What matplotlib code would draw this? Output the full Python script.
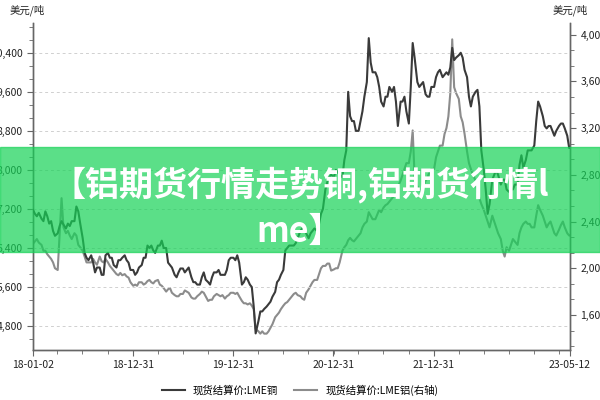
import matplotlib
matplotlib.use("Agg")
import matplotlib.pyplot as plt
import matplotlib.dates as mdates
from matplotlib.ticker import MultipleLocator, FuncFormatter
import pandas as pd

plt.rcParams['font.family'] = ['Noto Sans CJK SC', 'DejaVu Sans']

# readings taken roughly weekly: days 2, 9, 16, 23 of each month, Jan 2018 - Apr 2023,
# then 2023-05-02, 05-09, 05-12
days = [2, 9, 16, 23]
dates = [f"{y}-{m:02d}-{d:02d}" for y in range(2018, 2024) for m in range(1, 13) for d in days
         if (y, m) <= (2023, 4)]
dates += ["2023-05-02", "2023-05-09", "2023-05-12"]

# 现货结算价:LME铜 (left axis), 4 readings per month
copper_2018 = [7180, 7100, 7050, 7120, 7000, 6950, 7150, 7050, 6900, 6950, 6750, 6650,
               6700, 6850, 6950, 6880, 6800, 6900, 6850, 6950, 6950, 7250, 7150, 6900,
               6600, 6300, 6200, 6150, 6250, 6100, 5900, 6000, 6000, 5850, 5850, 6250,
               6300, 6200, 6200, 6050, 6000, 6150, 6150, 6200, 6250, 6150, 6100, 5950]
copper_2019 = [5950, 5850, 5900, 6000, 6050, 6200, 6200, 6450, 6400, 6450, 6350, 6300,
               6450, 6450, 6550, 6400, 6400, 6100, 6050, 6000, 5850, 5800, 5900, 5980,
               5980, 5900, 5950, 6000, 5800, 5700, 5700, 5650, 5650, 5800, 5900, 5750,
               5700, 5650, 5800, 5900, 5900, 5950, 5850, 5850, 5850, 5950, 6150, 6200]
copper_2020 = [6200, 6150, 6250, 6100, 5650, 5700, 5800, 5750, 5650, 5600, 5200, 4650,
               4900, 5100, 5100, 5150, 5200, 5250, 5300, 5400, 5500, 5700, 5750, 5850,
               5950, 6350, 6400, 6450, 6450, 6450, 6500, 6600, 6750, 6800, 6800, 6700,
               6600, 6700, 6750, 6800, 6750, 6900, 7100, 7200, 7600, 7750, 7850, 7900]
copper_2021 = [7850, 8000, 7950, 7900, 7850, 8200, 8400, 9600, 9100, 9000, 9000, 8800,
               8800, 9000, 9200, 9500, 9800, 10700, 10200, 10000, 10000, 9900, 9700, 9400,
               9300, 9500, 9500, 9700, 9600, 9700, 9400, 8900, 9400, 9400, 9500, 9200,
               8950, 9700, 10600, 10300, 9800, 9700, 9750, 9800, 9550, 9500, 9500, 9700]
copper_2022 = [9700, 9900, 10000, 10050, 9900, 9950, 10000, 9950, 10100, 10500, 10250, 10300,
               10350, 10400, 10300, 10050, 9900, 9500, 9300, 9500, 9600, 9640, 9300, 8400,
               8000, 7600, 7100, 7300, 7800, 7900, 8000, 7900, 7700, 7800, 7800, 7600,
               7550, 7600, 7600, 7700, 7700, 8100, 8300, 8050, 8200, 8400, 8400, 8400]
copper_2023 = [8500, 9000, 9400, 9300, 9100, 8900, 8850, 8900, 8900, 8800, 8700, 8800,
               8900, 8950, 8950, 8850, 8700, 8450, 8450]

# 现货结算价:LME铝 (right axis), 4 readings per month
al_2018 = [2210, 2230, 2250, 2220, 2200, 2150, 2150, 2120, 2100, 2080, 2050, 2000,
           1985, 2300, 2600, 2350, 2300, 2320, 2280, 2250, 2300, 2280, 2200, 2180,
           2150, 2100, 2050, 2050, 2050, 2080, 2050, 2030, 2100, 2060, 2050, 2080,
           2050, 2020, 2000, 1980, 1950, 1940, 1960, 1940, 1950, 1930, 1920, 1880]
al_2019 = [1850, 1860, 1850, 1880, 1880, 1860, 1870, 1890, 1900, 1880, 1870, 1890,
           1900, 1860, 1850, 1830, 1800, 1820, 1830, 1790, 1770, 1760, 1760, 1780,
           1780, 1810, 1800, 1790, 1750, 1740, 1740, 1760, 1780, 1800, 1790, 1760,
           1720, 1730, 1730, 1760, 1780, 1770, 1760, 1770, 1740, 1760, 1770, 1790]
al_2020 = [1790, 1780, 1790, 1760, 1720, 1700, 1700, 1690, 1700, 1680, 1650, 1480,
           1460, 1440, 1460, 1440, 1440, 1460, 1490, 1520, 1580, 1600, 1620, 1650,
           1680, 1700, 1710, 1730, 1760, 1780, 1790, 1770, 1760, 1740, 1730, 1790,
           1820, 1850, 1880, 1900, 1900, 1950, 2000, 2020, 2020, 2040, 2040, 1980]
al_2021 = [1990, 2000, 2000, 2050, 2150, 2180, 2200, 2240, 2260, 2240, 2230, 2250,
           2280, 2300, 2350, 2380, 2400, 2480, 2450, 2420, 2420, 2460, 2500, 2480,
           2520, 2540, 2550, 2570, 2600, 2620, 2650, 2700, 2750, 2800, 2850, 2900,
           2900, 3000, 3180, 2780, 2700, 2680, 2650, 2700, 2750, 2780, 2820, 2850]
al_2022 = [2850, 2950, 3000, 3050, 3050, 3150, 3200, 3300, 3500, 3960, 3550, 3500,
           3450, 3300, 3250, 3150, 3000, 2900, 2850, 2800, 2750, 2650, 2600, 2550,
           2500, 2450, 2400, 2350, 2450, 2400, 2350, 2300, 2250, 2150, 2100, 2180,
           2150, 2200, 2250, 2230, 2200, 2300, 2350, 2380, 2400, 2380, 2380, 2350]
al_2023 = [2350, 2450, 2540, 2500, 2450, 2400, 2350, 2380, 2400, 2350, 2300, 2280,
           2330, 2370, 2400, 2350, 2300, 2280, 2280]

copper = copper_2018 + copper_2019 + copper_2020 + copper_2021 + copper_2022 + copper_2023
aluminum = al_2018 + al_2019 + al_2020 + al_2021 + al_2022 + al_2023

tick_dates = ["2018-01-02", "2018-12-31", "2019-12-31", "2020-12-31", "2021-12-31", "2023-05-12"]
tick_labels = ["18-01-02", "18-12-31", "19-12-31", "20-12-31", "21-12-31", "23-05-12"]

banner_text = "【铝期货行情走势铜,铝期货行情l\nme】"

x = pd.to_datetime(dates)

fig = plt.figure(figsize=(6, 4), dpi=100)
ax = fig.add_axes([0.055, 0.125, 0.895, 0.8175])
ax2 = ax.twinx()

ax.plot(x, copper, color="#3a3a3a", lw=1.5, label="现货结算价:LME铜", zorder=3)
ax2.plot(x, aluminum, color="#8c8c8c", lw=1.5, label="现货结算价:LME铝(右轴)")
ax.set_zorder(ax2.get_zorder() + 1)
ax.patch.set_visible(False)

ax.set_xlim(pd.Timestamp("2018-01-02"), pd.Timestamp("2023-05-12"))
ax.set_ylim(4310, 11010)
ax2.set_ylim(1300, 4100)

ax.set_xticks(pd.to_datetime(tick_dates))
ax.set_xticklabels(tick_labels)
ax.xaxis.set_minor_locator(mdates.MonthLocator(bymonth=[1, 4, 7, 10], bymonthday=1))

fmt = FuncFormatter(lambda v, p: f"{int(v):,}")
ax.yaxis.set_major_locator(MultipleLocator(800))
ax.yaxis.set_minor_locator(MultipleLocator(800 / 3))
ax.yaxis.set_major_formatter(fmt)
ax2.yaxis.set_major_locator(MultipleLocator(400))
ax2.yaxis.set_minor_locator(MultipleLocator(400 / 3))
ax2.yaxis.set_major_formatter(fmt)

ax.grid(axis="y", ls=(0, (3, 3)), color="#d0d0d0", lw=0.7)

for a in (ax, ax2):
    for s in a.spines.values():
        s.set_color("#666666")
        s.set_linewidth(1.0)
    a.spines["top"].set_visible(False)
    a.tick_params(which="both", colors="#666666", labelcolor="#222222", labelsize=7.5)
    a.tick_params(which="major", length=4)
    a.tick_params(which="minor", length=3)

ax.text(-0.01, 1.04, "美元/吨", transform=ax.transAxes, fontsize=7.5, ha="center", va="center", color="#222222")
ax.text(1.0, 1.04, "美元/吨", transform=ax.transAxes, fontsize=7.5, ha="center", va="center", color="#222222")

fig.legend(loc="center", bbox_to_anchor=(0.5, 0.025), ncol=2, frameon=False, fontsize=7.5,
           handlelength=2.2, columnspacing=1.5)

# green banner with title
fig.patches.append(plt.Rectangle((0, 0.37), 1, 0.2625, transform=fig.transFigure,
                                 color="#15d256", alpha=0.7, zorder=10))
fig.text(0.5, 0.482, banner_text, ha="center", va="center", fontsize=24.5, fontweight="bold",
         color="white", linespacing=1.4, zorder=11)

fig.savefig("out.png", dpi=100)
